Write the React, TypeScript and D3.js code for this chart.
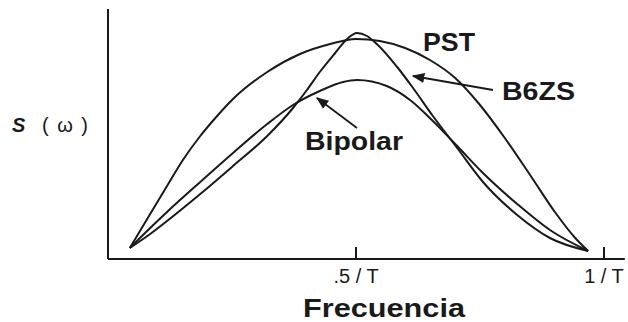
import React from "react";
import * as d3 from "d3";

// Frequency in units of 1/T, spectral density in relative units
const pstFreq = [0.044, 0.085, 0.119, 0.151, 0.186, 0.22, 0.252, 0.321, 0.387, 0.448, 0.5, 0.548, 0.599, 0.649, 0.7, 0.75, 0.8, 0.851, 0.901, 0.942, 0.968];
const pstS = [0.044, 0.18, 0.292, 0.396, 0.492, 0.572, 0.64, 0.748, 0.82, 0.86, 0.88, 0.872, 0.844, 0.796, 0.724, 0.616, 0.484, 0.336, 0.188, 0.084, 0.032];

const b6zsFreq = [0.044, 0.085, 0.119, 0.186, 0.252, 0.321, 0.373, 0.401, 0.427, 0.458, 0.482, 0.502, 0.522, 0.542, 0.583, 0.615, 0.655, 0.704, 0.756, 0.825, 0.891, 0.968];
const b6zsS = [0.044, 0.1, 0.152, 0.26, 0.372, 0.492, 0.604, 0.676, 0.748, 0.824, 0.88, 0.904, 0.892, 0.86, 0.768, 0.684, 0.572, 0.444, 0.308, 0.176, 0.084, 0.032];

const bipolarFreq = [0.044, 0.085, 0.119, 0.186, 0.252, 0.321, 0.373, 0.427, 0.474, 0.502, 0.562, 0.609, 0.655, 0.704, 0.756, 0.825, 0.891, 0.968];
const bipolarS = [0.044, 0.124, 0.188, 0.308, 0.424, 0.54, 0.616, 0.672, 0.708, 0.716, 0.692, 0.636, 0.552, 0.452, 0.344, 0.22, 0.116, 0.032];

const seriesNames = ["PST", "B6ZS", "Bipolar"];
const tickValues = [0.5, 1];
const tickLabels = [".5 / T", "1 / T"];
const xTitle = "Frecuencia";
const yTitleSymbol = "S";
const yTitleArg = "(ω)";

const W = 628;
const H = 322;
const ink = "#1a1a1a";
const font = "'Liberation Sans', Arial, Helvetica, sans-serif";

export default function App() {
  const x = d3.scaleLinear().domain([0, 1]).range([108, 604]);
  const y = d3.scaleLinear().domain([0, 1]).range([259, 9]);
  const xMax = 1.042;

  const line = d3
    .line<[number, number]>()
    .x((d) => x(d[0]))
    .y((d) => y(d[1]))
    .curve(d3.curveMonotoneX);

  const zip = (a: number[], b: number[]) => a.map((v, i) => [v, b[i]] as [number, number]);
  const curves = [zip(pstFreq, pstS), zip(b6zsFreq, b6zsS), zip(bipolarFreq, bipolarS)];

  return (
    <svg
      width={W}
      height={H}
      style={{ position: "absolute", left: 0, top: 0, background: "#fff" }}
    >
      <defs>
        <marker id="head" viewBox="0 0 10 10" refX="9" refY="5" markerWidth="7" markerHeight="7" orient="auto">
          <path d="M0,1 L10,5 L0,9 Z" fill={ink} />
        </marker>
      </defs>

      {/* axes */}
      <line x1={x(0)} y1={y(0)} x2={x(xMax)} y2={y(0)} stroke={ink} strokeWidth={2} />
      <line x1={x(0)} y1={y(0)} x2={x(0)} y2={y(1)} stroke={ink} strokeWidth={2} />
      {tickValues.map((t, i) => (
        <g key={t}>
          <line x1={x(t)} y1={y(0)} x2={x(t)} y2={y(0) - 12} stroke={ink} strokeWidth={2} />
          <text
            x={x(t)}
            y={283}
            textAnchor="middle"
            fontFamily={font}
            fontSize={20}
            fill={ink}
          >
            {tickLabels[i]}
          </text>
        </g>
      ))}

      {/* spectra */}
      {curves.map((c, i) => (
        <path key={seriesNames[i]} d={line(c) || ""} fill="none" stroke={ink} strokeWidth={2} strokeLinejoin="round" />
      ))}

      {/* series labels */}
      <text x={423} y={51} fontFamily={font} fontWeight="bold" fontSize={25} fill={ink} textLength={52} lengthAdjust="spacingAndGlyphs">
        {seriesNames[0]}
      </text>
      <text x={502} y={100} fontFamily={font} fontWeight="bold" fontSize={25} fill={ink} textLength={73} lengthAdjust="spacingAndGlyphs">
        {seriesNames[1]}
      </text>
      <text x={305} y={150} fontFamily={font} fontWeight="bold" fontSize={25} fill={ink} textLength={98} lengthAdjust="spacingAndGlyphs">
        {seriesNames[2]}
      </text>

      {/* pointers */}
      <line x1={493} y1={90} x2={413} y2={76} stroke={ink} strokeWidth={1.8} markerEnd="url(#head)" />
      <line x1={357} y1={128} x2={317} y2={98} stroke={ink} strokeWidth={1.8} markerEnd="url(#head)" />

      {/* axis titles */}
      <text x={303} y={317} fontFamily={font} fontWeight="bold" fontSize={26} fill={ink} textLength={162} lengthAdjust="spacingAndGlyphs">
        {xTitle}
      </text>
      <text x={12} y={132} fontFamily={font} fontWeight="bold" fontStyle="italic" fontSize={20} fill={ink}>
        {yTitleSymbol}
      </text>
      <text x={42} y={132} fontFamily={font} fontSize={20} fill={ink} textLength={46} lengthAdjust="spacing">
        {yTitleArg}
      </text>
    </svg>
  );
}
